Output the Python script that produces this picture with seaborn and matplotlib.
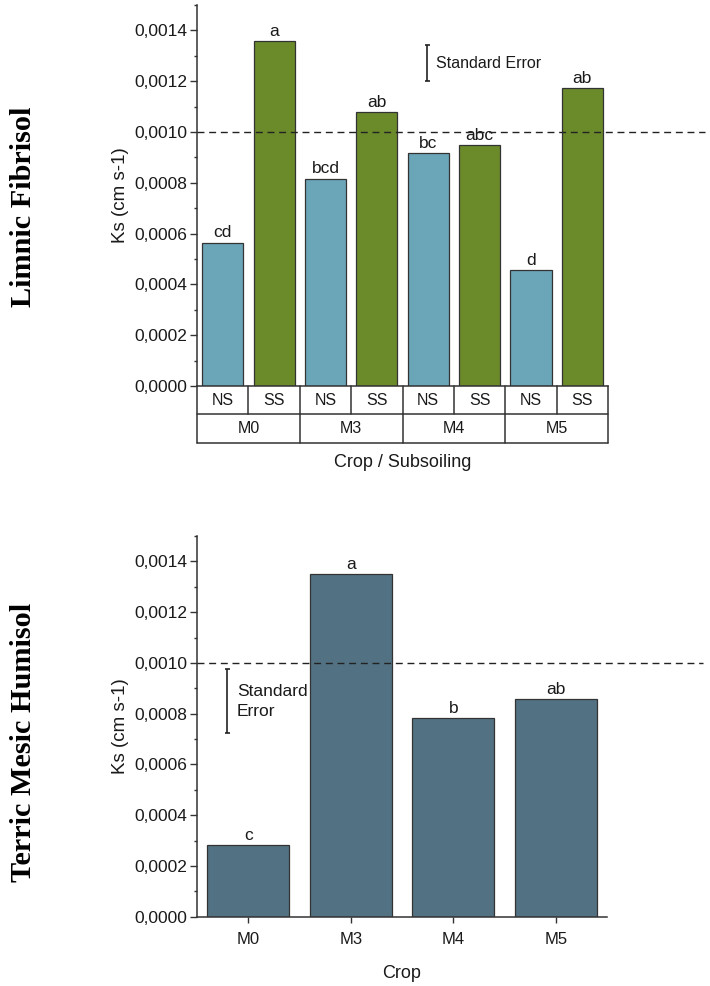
import matplotlib
matplotlib.use("Agg")
import matplotlib.pyplot as plt
import matplotlib.transforms as mtransforms
from matplotlib.ticker import MultipleLocator, FixedLocator, FuncFormatter
import seaborn as sns
import pandas as pd

# ---- data -------------------------------------------------------------
crops = ["M0", "M3", "M4", "M5"]
subsoiling = ["NS", "SS"]

# Limnic Fibrisol: Ks per crop, not subsoiled (NS) and subsoiled (SS)
ks_ns = [0.000565, 0.000817, 0.000918, 0.000456]
ks_ss = [0.001358, 0.001077, 0.000947, 0.001174]
letters_ns = ["cd", "bcd", "bc", "d"]
letters_ss = ["a", "ab", "abc", "ab"]

# Terric Mesic Humisol: Ks per crop
ks_crop = [0.000283, 0.001350, 0.000781, 0.000859]
letters_crop = ["c", "a", "b", "ab"]

# standard error bars (centre, half length)
se_top = (0.00127, 0.000071)
se_bottom = (0.000849, 0.000127)
threshold = 0.0010

yticks = [0.0, 0.0002, 0.0004, 0.0006, 0.0008, 0.0010, 0.0012, 0.0014]

# ---- style ------------------------------------------------------------
sns.set_style("ticks")
plt.rcParams["font.family"] = ["Liberation Sans", "DejaVu Sans"]
plt.rcParams["text.color"] = "#1a1a1a"
plt.rcParams["axes.labelcolor"] = "#1a1a1a"
plt.rcParams["xtick.color"] = "#1a1a1a"
plt.rcParams["ytick.color"] = "#1a1a1a"

col_ns = "#6aa5b8"
col_ss = "#6b8a2a"
col_crop = "#527284"
edge = "#333333"
line_col = "#333333"

fig = plt.figure(figsize=(7.1, 9.86), dpi=100)
ax1 = fig.add_axes([0.2775, 0.6085, 0.5789, 0.3864])
ax2 = fig.add_axes([0.2775, 0.0703, 0.5775, 0.3861])


def comma_fmt(v, _pos=None):
    return f"{v:.4f}".replace(".", ",")


def style_yaxis(ax):
    ax.set_ylim(0, 0.0015)
    ax.yaxis.set_major_locator(FixedLocator(yticks))
    ax.yaxis.set_minor_locator(MultipleLocator(0.0001))
    ax.yaxis.set_major_formatter(FuncFormatter(comma_fmt))
    ax.tick_params(axis="y", which="major", length=5, width=1.0, labelsize=12.5,
                   pad=2, direction="out", color=line_col)
    ax.tick_params(axis="y", which="minor", length=2.5, width=1.0,
                   direction="out", color=line_col)
    ax.set_ylabel("Ks (cm s-1)", fontsize=13.5, va="center")
    ax.yaxis.set_label_coords(-0.187, 0.5)
    for s in ("top", "right"):
        ax.spines[s].set_visible(False)
    for s in ("left", "bottom"):
        ax.spines[s].set_linewidth(1.1)
        ax.spines[s].set_color(line_col)
    # dashed reference line reaching past the plotting area
    ax.plot([0, 1.235], [threshold, threshold], transform=ax.get_yaxis_transform(),
            ls=(0, (5, 3.4)), color="#222222", lw=1.0, clip_on=False, zorder=4)


# ---- top panel: crop x subsoiling --------------------------------------
slots, subs, vals, labs = [], [], [], []
for i, c in enumerate(crops):
    for s, v, lab in ((subsoiling[0], ks_ns[i], letters_ns[i]),
                      (subsoiling[1], ks_ss[i], letters_ss[i])):
        slots.append(f"{c}-{s}")
        subs.append(s)
        vals.append(v)
        labs.append(lab)
df_top = pd.DataFrame({"slot": slots, "sub": subs, "ks": vals})

sns.barplot(data=df_top, x="slot", y="ks", hue="sub", order=slots,
            palette={"NS": col_ns, "SS": col_ss}, dodge=False, width=0.8,
            saturation=1, edgecolor=edge, linewidth=0.9, legend=False,
            errorbar=None, ax=ax1, zorder=2)
ax1.set_xlim(-0.5, len(slots) - 0.5)
style_yaxis(ax1)
ax1.set_xticks([])
ax1.set_xlabel("")

for i, (v, lab) in enumerate(zip(vals, labs)):
    ax1.annotate(lab, (i, v), xytext=(0, 1.5), textcoords="offset points",
                 ha="center", va="bottom", fontsize=12.5)

# category table under the top panel
trans = mtransforms.blended_transform_factory(ax1.transData, ax1.transAxes)
row1, row2 = -0.0735, -0.1496
tbl = dict(transform=trans, clip_on=False, color=line_col, lw=1.1)
n = len(slots)
ax1.plot([-0.5, n - 0.5], [row1, row1], **tbl)
ax1.plot([-0.5, n - 0.5], [row2, row2], **tbl)
ax1.plot([-0.5, -0.5], [0, row2], **tbl)
ax1.plot([n - 0.5, n - 0.5], [0, row2], **tbl)
for k in range(1, n):
    x = k - 0.5
    ax1.plot([x, x], [0, row1], **tbl)
    if k % 2 == 0:
        ax1.plot([x, x], [row1, row2], **tbl)
for i, s in enumerate(subs):
    ax1.text(i, row1 / 2, s, transform=trans, ha="center", va="center", fontsize=11.5)
for j, c in enumerate(crops):
    ax1.text(2 * j + 0.5, (row1 + row2) / 2, c, transform=trans,
             ha="center", va="center", fontsize=11.5)
ax1.text(0.5, -0.1995, "Crop / Subsoiling", transform=ax1.transAxes,
         ha="center", va="center", fontsize=13)

ax1.errorbar(3.97, se_top[0], yerr=se_top[1], fmt="none", ecolor="#222222",
             elinewidth=1.2, capsize=1.8, capthick=1.2, zorder=5)
ax1.text(4.15, se_top[0], "Standard Error", ha="left", va="center", fontsize=11.5)

# ---- bottom panel: crop only ------------------------------------------
sns.barplot(x=crops, y=ks_crop, color=col_crop, saturation=1, width=0.8,
            edgecolor=edge, linewidth=0.9, errorbar=None, ax=ax2, zorder=2)
ax2.set_xlim(-0.5, len(crops) - 0.5)
style_yaxis(ax2)
ax2.tick_params(axis="x", length=4, width=1.0, labelsize=12, pad=7,
                direction="out", color=line_col)
ax2.set_xlabel("Crop", fontsize=13, va="center")
ax2.xaxis.set_label_coords(0.5, -0.148)
for i, (v, lab) in enumerate(zip(ks_crop, letters_crop)):
    ax2.annotate(lab, (i, v), xytext=(0, 1.5), textcoords="offset points",
                 ha="center", va="bottom", fontsize=12.5)

ax2.errorbar(-0.204, se_bottom[0], yerr=se_bottom[1], fmt="none", ecolor="#222222",
             elinewidth=1.2, capsize=1.8, capthick=1.2, zorder=5)
ax2.text(-0.113, se_bottom[0], "Standard\nError", ha="left", va="center",
         fontsize=12.5, linespacing=1.4)

# ---- soil type titles --------------------------------------------------
title_kw = dict(rotation=90, ha="center", va="center", fontsize=21.75,
                fontweight="bold", family=["Liberation Serif", "DejaVu Serif"],
                color="#000000")
fig.text(23.5 / 710, 1 - 207 / 986, "Limnic Fibrisol", **title_kw)
fig.text(23.5 / 710, 1 - 742 / 986, "Terric Mesic Humisol", **title_kw)

fig.savefig("out.png", dpi=100)
